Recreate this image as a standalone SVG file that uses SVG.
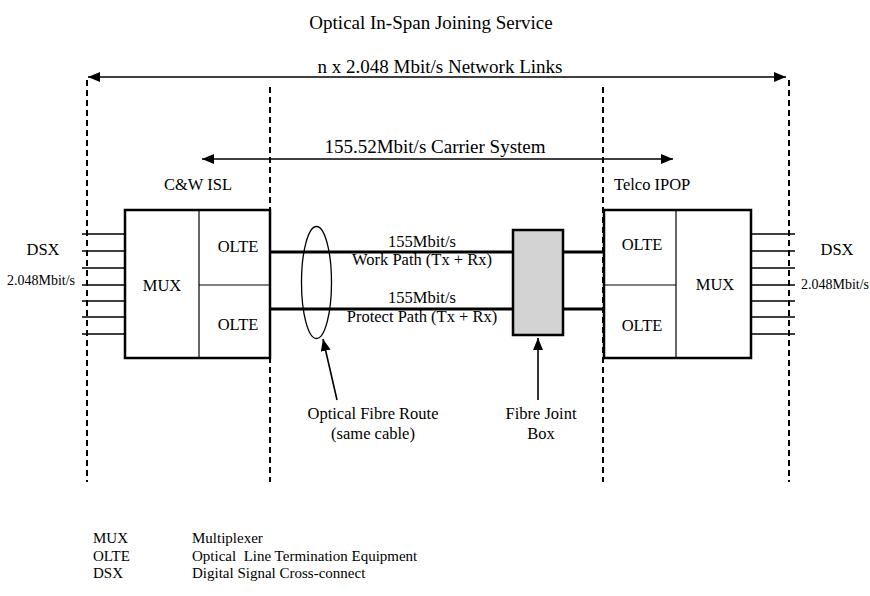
<svg xmlns="http://www.w3.org/2000/svg" width="870" height="596" viewBox="0 0 870 596" font-family="'Liberation Serif','Times New Roman',serif">
<style>
text{font-family:"Liberation Serif","Times New Roman",serif;fill:#000}
.t19{font-family:"Liberation Serif",serif;font-size:19px}
.t16{font-family:"Liberation Serif",serif;font-size:16.5px}
.t14{font-family:"Liberation Serif",serif;font-size:14px}
.leg{font-family:"Liberation Serif",serif;font-size:15px;white-space:pre}
.dash{stroke:#000;stroke-width:2;stroke-dasharray:6,4;fill:none}
.box{fill:#fff;stroke:#000;stroke-width:2.5}
.div{stroke:#000;stroke-width:1.2;fill:none}
.thin{stroke:#000;stroke-width:1.5;fill:none}
.thick{stroke:#000;stroke-width:3;fill:none}
.arr{stroke:#000;stroke-width:1.6;fill:none;marker-end:url(#ah)}
.arr2{stroke:#000;stroke-width:1.6;fill:none;marker-start:url(#ah);marker-end:url(#ah)}
</style>
<defs>
<marker id="ah" markerUnits="userSpaceOnUse" markerWidth="13" markerHeight="10" refX="12" refY="5" orient="auto-start-reverse">
<path d="M0,0 L12,5 L0,10 z" fill="#000"/>
</marker>
</defs>
<rect width="870" height="596" fill="#fff"/>
<text class="t19" x="431" y="29" text-anchor="middle">Optical In-Span Joining Service</text>
<text class="t19" x="440" y="73" text-anchor="middle">n x 2.048 Mbit/s Network Links</text>
<text class="t19" x="435" y="153" text-anchor="middle">155.52Mbit/s Carrier System</text>
<text class="t16" x="164" y="190">C&amp;W ISL</text>
<text class="t16" x="614" y="190">Telco IPOP</text>
<g id="boundaries">
<line class="dash" x1="87" y1="80" x2="87" y2="482"/>
<line class="dash" x1="270" y1="87" x2="270" y2="482"/>
<line class="dash" x1="603" y1="87" x2="603" y2="482"/>
<line class="dash" x1="789" y1="80" x2="789" y2="482"/>
</g>
<g id="connectors">
<line class="arr2" x1="88" y1="77" x2="786" y2="77"/>
<line class="arr2" x1="202" y1="159" x2="673" y2="159"/>
<g id="left-inputs" class="thin">
<line x1="82" y1="234" x2="125" y2="234"/>
<line x1="82" y1="251" x2="125" y2="251"/>
<line x1="82" y1="268" x2="125" y2="268"/>
<line x1="82" y1="285" x2="125" y2="285"/>
<line x1="82" y1="301" x2="125" y2="301"/>
<line x1="82" y1="317" x2="125" y2="317"/>
<line x1="82" y1="334" x2="125" y2="334"/>
</g>
<g id="right-inputs" class="thin">
<line x1="751" y1="234" x2="795" y2="234"/>
<line x1="751" y1="251" x2="795" y2="251"/>
<line x1="751" y1="268" x2="795" y2="268"/>
<line x1="751" y1="285" x2="795" y2="285"/>
<line x1="751" y1="301" x2="795" y2="301"/>
<line x1="751" y1="317" x2="795" y2="317"/>
<line x1="751" y1="334" x2="795" y2="334"/>
</g>
<line class="thick" x1="270" y1="252" x2="604" y2="252"/>
<line class="thick" x1="270" y1="309" x2="604" y2="309"/>
<line class="arr" x1="337" y1="400" x2="323" y2="339"/>
<line class="arr" x1="538" y1="400" x2="538" y2="338"/>
</g>
<g id="left-equipment">
<rect class="box" x="125" y="210" width="145" height="148"/>
<line class="div" x1="199" y1="210" x2="199" y2="358"/>
<line class="div" x1="199" y1="285" x2="270" y2="285"/>
<text class="t16" x="162" y="291" text-anchor="middle">MUX</text>
<text class="t16" x="238" y="252" text-anchor="middle">OLTE</text>
<text class="t16" x="238" y="330" text-anchor="middle">OLTE</text>
</g>
<g id="right-equipment">
<rect class="box" x="604" y="210" width="147" height="148"/>
<line class="div" x1="676" y1="210" x2="676" y2="358"/>
<line class="div" x1="604" y1="285" x2="676" y2="285"/>
<text class="t16" x="715" y="290" text-anchor="middle">MUX</text>
<text class="t16" x="642" y="250" text-anchor="middle">OLTE</text>
<text class="t16" x="642" y="331" text-anchor="middle">OLTE</text>
</g>
<g id="left-dsx">
<text class="t16" x="43" y="255" text-anchor="middle">DSX</text>
<text class="t14" x="7" y="285">2.048Mbit/s</text>
</g>
<g id="right-dsx">
<text class="t16" x="837" y="255" text-anchor="middle">DSX</text>
<text class="t14" x="801" y="289">2.048Mbit/s</text>
</g>
<g id="fibre-route">
<ellipse cx="316.5" cy="282.5" rx="15" ry="56" fill="none" stroke="#000" stroke-width="1.3"/>
</g>
<g id="joint-box">
<rect x="513" y="230" width="50" height="105" fill="#d3d3d3" stroke="#000" stroke-width="2.5"/>
</g>
<g id="path-labels">
<text class="t16" x="422" y="247" text-anchor="middle">155Mbit/s</text>
<text class="t16" x="422" y="265" text-anchor="middle">Work Path (Tx + Rx)</text>
<text class="t16" x="422" y="303" text-anchor="middle">155Mbit/s</text>
<text class="t16" x="422" y="322" text-anchor="middle">Protect Path (Tx + Rx)</text>
</g>
<g id="callout-labels">
<text class="t16" x="373" y="419" text-anchor="middle">Optical Fibre Route</text>
<text class="t16" x="373" y="439" text-anchor="middle">(same cable)</text>
<text class="t16" x="541" y="419" text-anchor="middle">Fibre Joint</text>
<text class="t16" x="541" y="439" text-anchor="middle">Box</text>
</g>
<g id="legend">
<text class="leg" x="93" y="543">MUX</text>
<text class="leg" x="192" y="543">Multiplexer</text>
<text class="leg" x="93" y="560.5">OLTE</text>
<text class="leg" x="192" y="560.5" xml:space="preserve">Optical  Line Termination Equipment</text>
<text class="leg" x="93" y="578">DSX</text>
<text class="leg" x="192" y="578">Digital Signal Cross-connect</text>
</g>
</svg>
